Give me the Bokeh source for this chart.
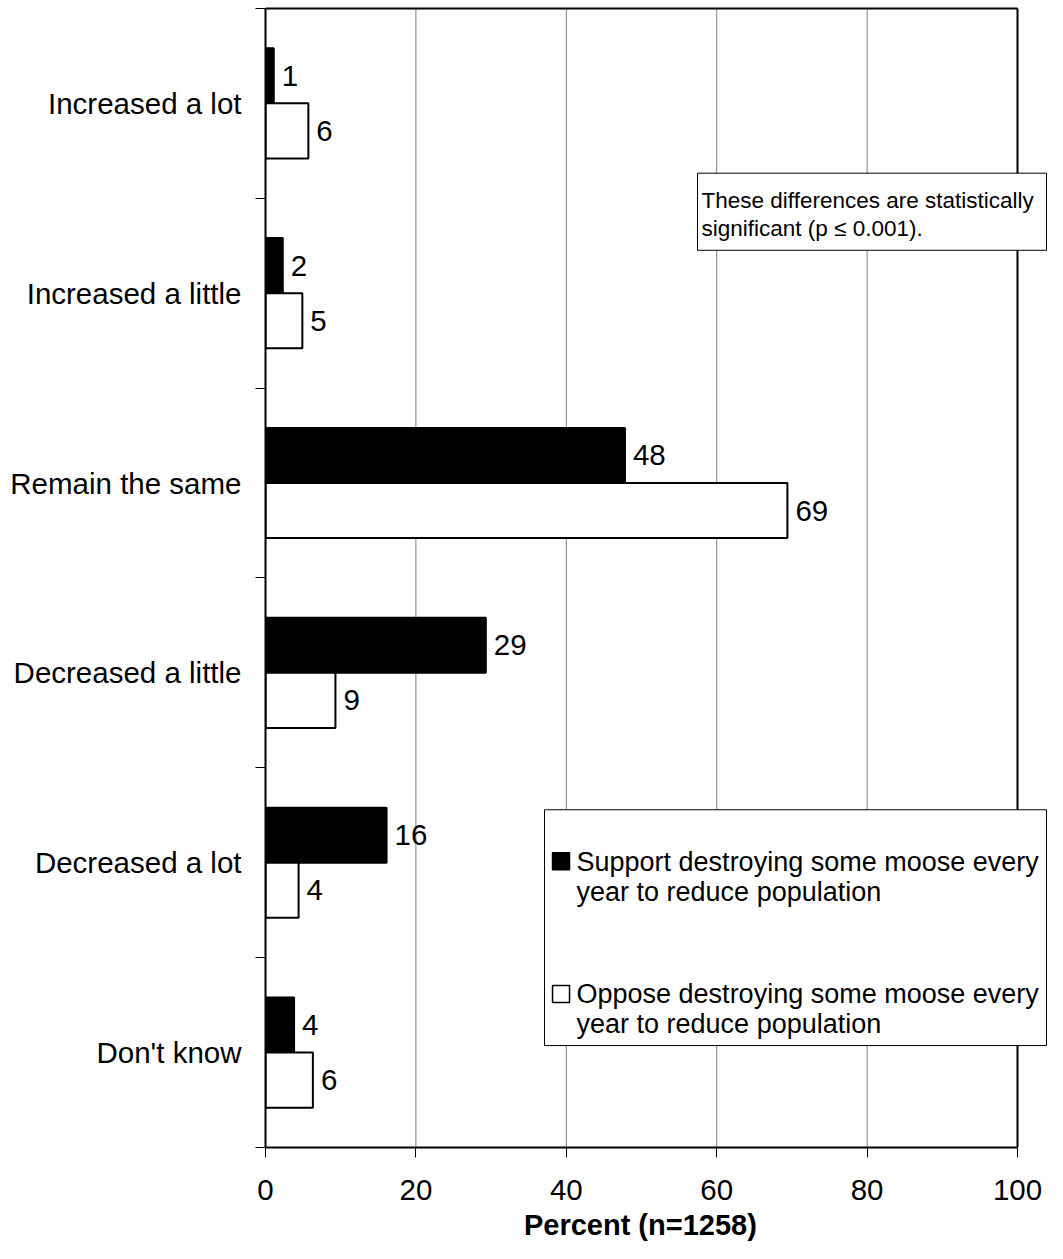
import numpy as np
from bokeh.plotting import figure
from bokeh.models import Range1d, FixedTicker, ColumnDataSource
from bokeh.core.properties import value
from bokeh.embed import file_html
from bokeh.resources import INLINE

# ---------------- data ----------------
categories = ["Increased a lot", "Increased a little", "Remain the same",
              "Decreased a little", "Decreased a lot", "Don't know"]
support = [1.1, 2.3, 47.8, 29.3, 16.1, 3.8]
oppose = [5.7, 4.9, 69.4, 9.3, 4.4, 6.3]
support_labels = ["1", "2", "48", "29", "16", "4"]
oppose_labels = ["6", "5", "69", "9", "4", "6"]
x_ticks = [0, 20, 40, 60, 80, 100]
grid_values = [20, 40, 60, 80]
series_names = ["Support destroying some moose every\nyear to reduce population",
                "Oppose destroying some moose every\nyear to reduce population"]
series_colors = ["black", "white"]
note_text = "These differences are statistically\nsignificant (p \u2264 0.001)."
axis_title = "Percent (n=1258)"

FONT = "Liberation Sans"
n = len(categories)
centers = np.arange(n) + 0.5
bar_h = 0.29

p = figure(width=1047, height=1243,
           x_range=Range1d(0, 103.99), y_range=Range1d(n, -0.01),
           output_backend="svg", toolbar_location=None,
           min_border_left=265, min_border_right=0,
           min_border_top=6, min_border_bottom=95)
p.outline_line_color = None
p.background_fill_color = "white"
p.border_fill_color = "white"
p.xgrid.visible = False
p.ygrid.visible = False

# grid lines and frame borders (only up to 100)
p.segment(x0=grid_values, y0=0, x1=grid_values, y1=n,
          line_color="#808080", line_width=1)
p.segment(x0=[x_ticks[-1]], y0=[0], x1=[x_ticks[-1]], y1=[n],
          line_color="black", line_width=2)
p.segment(x0=[0], y0=[0], x1=[x_ticks[-1]], y1=[0],
          line_color="black", line_width=2)

# bars
src_s = ColumnDataSource(dict(y=centers - bar_h / 2, right=support, label=support_labels))
src_o = ColumnDataSource(dict(y=centers + bar_h / 2, right=oppose, label=oppose_labels))
p.hbar(y="y", left=0, right="right", height=bar_h, source=src_s,
       fill_color=series_colors[0], line_color="black", line_width=2)
p.hbar(y="y", left=0, right="right", height=bar_h, source=src_o,
       fill_color=series_colors[1], line_color="black", line_width=2)

for src in (src_s, src_o):
    p.text(x="right", y="y", text="label", source=src, x_offset=8,
           text_baseline="middle", text_align="left",
           text_font=value(FONT), text_font_size="29.5px", text_color="black")

# note box
p.quad(left=[57.45], right=[103.86], top=[0.868], bottom=[1.274],
       fill_color="white", line_color="black", line_width=1)
p.text(x=[57.98], y=[1.084], text=[note_text], text_baseline="middle",
       text_align="left", text_font=value(FONT), text_font_size="22.5px",
       text_line_height=1.12, text_color="black")

# legend box
p.quad(left=[37.10], right=[103.86], top=[4.221], bottom=[5.463],
       fill_color="white", line_color="black", line_width=1)
p.rect(x=[39.30, 39.30], y=[4.492, 5.192], width=17, height=17,
       width_units="screen", height_units="screen",
       fill_color=series_colors, line_color="black", line_width=1.5)
p.text(x=[41.36, 41.36], y=[4.576, 5.271], text=series_names,
       text_baseline="middle", text_align="left",
       text_font=value(FONT), text_font_size="27px",
       text_line_height=1.02, text_color="black")

# x axis
xa = p.xaxis[0]
xa.ticker = FixedTicker(ticks=x_ticks)
xa.bounds = (0, 100)
xa.axis_line_width = 2
xa.axis_line_color = "black"
xa.major_tick_out = 10
xa.major_tick_in = 0
xa.major_tick_line_color = "black"
xa.minor_tick_line_color = None
xa.major_label_text_font = FONT
xa.major_label_text_font_size = "29.5px"
xa.major_label_text_color = "black"
xa.major_label_standoff = 22
# title is centred on the whole frame; non-breaking padding moves it over the 0-100 span
xa.axis_label = axis_title + "\u00a0" * 4
xa.axis_label_text_font = FONT
xa.axis_label_text_font_size = "29px"
xa.axis_label_text_font_style = "bold"
xa.axis_label_text_color = "black"
xa.axis_label_standoff = 6

# y axis
ya = p.yaxis[0]
ya.ticker = FixedTicker(ticks=[float(c) for c in centers],
                        minor_ticks=list(range(n + 1)))
ya.major_label_overrides = {float(c): cat for c, cat in zip(centers, categories)}
ya.bounds = (0, n)
ya.axis_line_width = 2
ya.axis_line_color = "black"
ya.major_tick_line_color = None
ya.major_tick_out = 0
ya.major_tick_in = 0
ya.minor_tick_out = 10
ya.minor_tick_in = 0
ya.minor_tick_line_color = "black"
ya.major_label_standoff = 14
ya.major_label_text_font = FONT
ya.major_label_text_font_size = "29.5px"
ya.major_label_text_color = "black"

open("out.html", "w").write(file_html(p, INLINE))
